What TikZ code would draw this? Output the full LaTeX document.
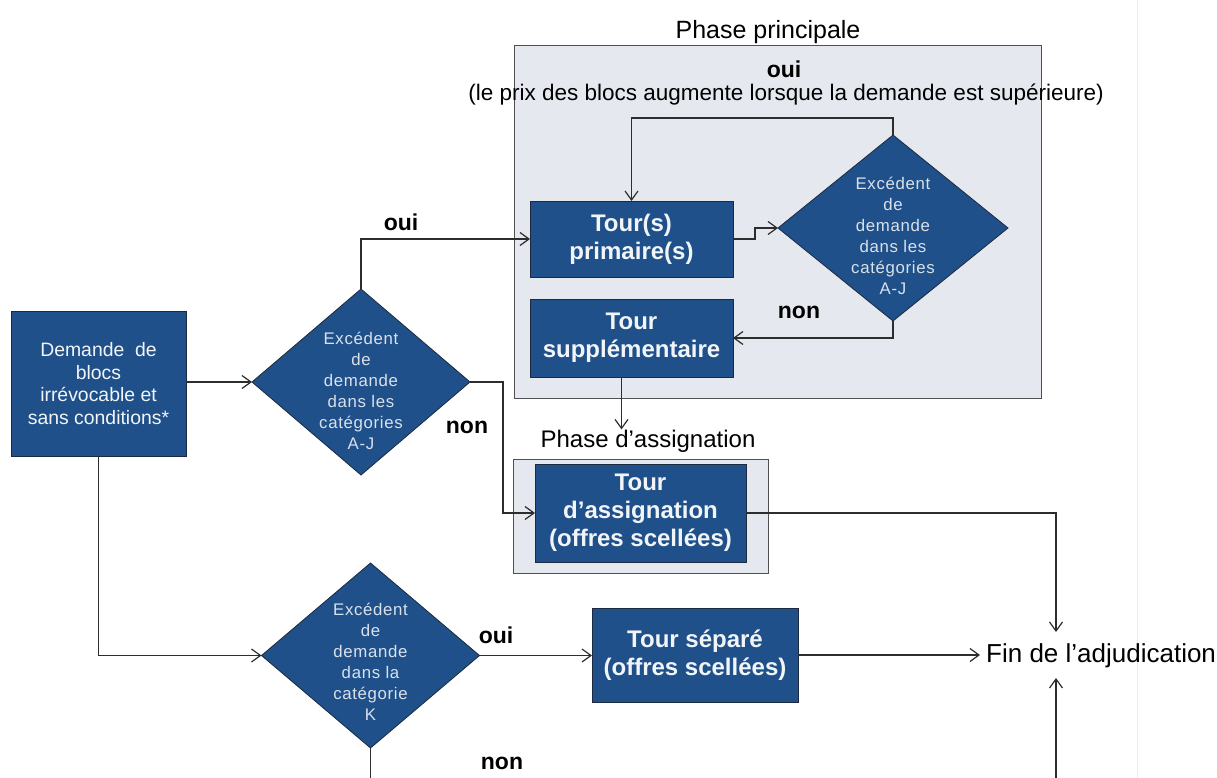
\documentclass[tikz,border=0pt]{standalone}
\usepackage{fontspec}
\setmainfont{Liberation Sans}
\newfontfamily\diafont[LetterSpace=4]{Liberation Sans}
\usetikzlibrary{shapes.geometric,arrows.meta,calc}
\definecolor{boxblue}{RGB}{31,80,138}
\definecolor{boxedge}{RGB}{28,42,64}
\definecolor{phasefill}{RGB}{230,232,240}
\definecolor{phaseedge}{RGB}{80,80,80}
\definecolor{linecol}{RGB}{45,45,45}
\definecolor{txtw}{RGB}{242,245,248}
\definecolor{pageline}{RGB}{236,236,236}
\begin{document}
\begin{tikzpicture}[x=1pt,y=-1pt,
  bluebox/.style={draw=boxedge,line width=1pt,fill=boxblue,text=txtw,inner sep=0pt,outer sep=0pt,align=center},
  boldtxt/.style={font=\fontsize{24}{28}\selectfont\bfseries},
  dia/.style={diamond,draw=boxedge,line width=0.8pt,fill=boxblue,inner sep=0pt,outer sep=0pt},
  diatext/.style={text=txtw!88!boxblue,font=\diafont\fontsize{16.8}{21}\selectfont,align=center,inner sep=0pt},
  phase/.style={draw=phaseedge,line width=1pt,fill=phasefill,inner sep=0pt,outer sep=0pt},
  conn/.style={draw=linecol,line width=1.2pt},
  arr/.style={conn,-{Straight Barb[length=9pt,width=13pt]}},
  lbl/.style={font=\fontsize{23}{26}\selectfont\bfseries,inner sep=0pt},
  plain/.style={inner sep=0pt},
]
\useasboundingbox (0,0) rectangle (1217,778);
\draw[pageline,line width=1pt] (1137,0) -- (1137,778);

% phase backgrounds
\node[phase,minimum width=527,minimum height=352] (ppbox) at (777.5,222) {};
\node[phase,minimum width=255,minimum height=114] (pabox) at (640.5,516) {};

% titles
\node[plain,anchor=base,font=\fontsize{25}{28}\selectfont] (ptitle) at (768,39) {Phase principale};
\node[lbl] (ouitop) at (784,69) {oui};
\node[plain,font=\fontsize{22.5}{26}\selectfont] (prix) at (786,95) {(le prix des blocs augmente lorsque la demande est supérieure)};
\node[plain,anchor=base,font=\fontsize{24}{28}\selectfont,inner ysep=0pt] (patitle) at (648,447) {Phase d’assignation};

% boxes
\node[bluebox,minimum width=175,minimum height=145,font=\fontsize{19.4}{22.7}\selectfont] (dem) at (98.5,383.5)
  {Demande~ de\\blocs\\irrévocable et\\sans conditions*};
\node[bluebox,boldtxt,minimum width=203,minimum height=76] (tp) at (631.5,239) {Tour(s)\\primaire(s)};
\node[bluebox,boldtxt,minimum width=203,minimum height=78] (ts) at (631.5,338) {Tour\\supplémentaire};
\node[bluebox,boldtxt,minimum width=211,minimum height=98] (ta) at (640.5,513) {Tour\\d’assignation\\(offres scellées)};
\node[bluebox,boldtxt,minimum width=206,minimum height=94] (sep) at (695,655) {Tour séparé\\(offres scellées)};

% diamonds
\node[dia,minimum width=218,minimum height=186] (d1) at (361,382) {};
\node[diatext] at ([yshift=-9pt]d1.center) {Excédent\\de\\demande\\dans les\\catégories\\A-J};
\node[dia,minimum width=230,minimum height=186] (d2) at (893,228) {};
\node[diatext] at ([yshift=-8pt]d2.center) {Excédent\\de\\demande\\dans les\\catégories\\A-J};
\node[dia,minimum width=218,minimum height=185] (d3) at (370.5,655.5) {};
\node[diatext] at ([yshift=-6pt]d3.center) {Excédent\\de\\demande\\dans la\\catégorie\\K};

% end node
\node[plain,anchor=west,inner xsep=6pt,font=\fontsize{26}{30}\selectfont] (fin) at (980,656) {Fin de l’adjudication};
\coordinate (finT) at (1056,632);
\coordinate (finB) at (1056,678);
\coordinate (botR) at (1056,778);
\coordinate (botL) at (370.5,778);

% labels
\node[lbl] (oui1) at (401,222) {oui};
\node[lbl] (non1) at (467,427) {non};
\node[lbl] (non2) at (799,312) {non};
\node[lbl] (oui3) at (496,635) {oui};
\node[lbl] (non3) at (502,763) {non};

% connectors
\draw[arr] (dem.east |- d1.west) -- (d1.west);
\draw[arr] (d1.north) |- (tp.west);
\draw[arr] (tp.east) -- ++(22,0) |- (d2.west);
\draw[arr] (d2.north) -- ++(0,-17) -| (tp.north);
\draw[arr] (d2.south) |- (ts.east);
\draw[arr] ([xshift=-10pt]ts.south) -- ([xshift=-10pt]ts.south |- patitle.north);
\draw[arr] (d1.east) -- ++(33,0) |- (ta.west);
\draw[arr] (ta.east) -| (finT);
\draw[arr] (dem.south) |- (d3.west);
\draw[arr] (d3.east) -- (d3.east -| sep.west);
\draw[arr] (sep.east) -- (sep.east -| fin.west);
\draw[conn] (d3.south) -- (botL);
\draw[arr] (botR) -- (finB);
\end{tikzpicture}
\end{document}
